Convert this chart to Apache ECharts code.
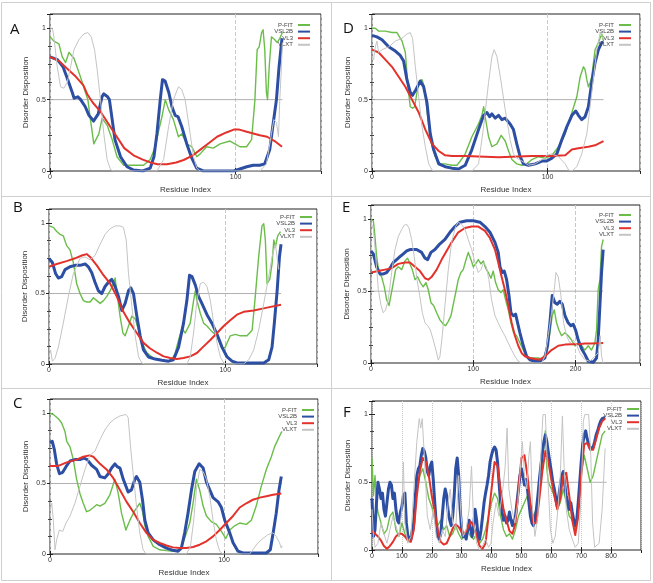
<!DOCTYPE html>
<html><head><meta charset="utf-8">
<script src="https://cdn.jsdelivr.net/npm/echarts@6/dist/echarts.min.js"></script>
<style>html,body{margin:0;padding:0;background:#fff}#c{width:653px;height:583px}</style>
</head><body><div id="c"></div>
<script>
const NAMES = ['P-FIT', 'VSL2B', 'VL3', 'VLXT'];
const THRESHOLD = 0.5;
const X_TICK_STEP = 100;
const Y_TICK_STEP = 0.5;
// sequence lengths (end of threshold line) per panel
const SEQ_END = { A: 125.2, B: 131.6, C: 133.4, D: 131.9, E: 227, F: 785 };
const X_MAX = { A: 146, B: 152, C: 154, D: 152.7, E: 263, F: 900 };

// ---------- Panel A ----------
const A_PFIT = [[0,0.94],[2.1,0.91],[4.8,0.89],[6.6,0.80],[8.4,0.76],[10.2,0.83],[11.1,0.84],[12.9,0.79],[15.6,0.69],[17.4,0.62],[19.1,0.55],[20.4,0.50],[21.8,0.36],[23.6,0.19],[24.5,0.18],[26.3,0.26],[28.1,0.37],[30.8,0.32],[33.5,0.22],[36.1,0.10],[39.7,0.04],[45.1,0.04],[50.4,0.04],[54,0.08],[56.7,0.17],[58.5,0.28],[60.3,0.38],[62.1,0.50],[63.9,0.43],[66.5,0.36],[69.2,0.24],[71,0.26],[73.7,0.19],[76.4,0.17],[79.1,0.10],[80.9,0.12],[84.4,0.17],[88,0.16],[91.6,0.19],[97,0.21],[99.6,0.19],[102.3,0.17],[105.9,0.17],[108.6,0.22],[110.4,0.50],[111.6,0.85],[112.7,0.87],[114,0.97],[114.8,0.99],[115.7,0.85],[116.6,0.55],[117.2,0.50],[118.1,0.73],[119.3,0.94],[121.1,0.92],[122.4,0.90],[123.8,0.93],[125.2,0.97]];
const A_VSL2B = [[0,0.80],[4,0.78],[7,0.73],[9,0.66],[12,0.55],[13,0.51],[15,0.52],[16.5,0.50],[19,0.45],[21,0.39],[23.5,0.35],[24.5,0.34],[26,0.40],[28,0.52],[29,0.54],[31,0.52],[32,0.50],[33.5,0.36],[35,0.22],[38,0.10],[41.5,0.03],[45,0.007],[50,0],[54,0.02],[56,0.10],[57.6,0.26],[59.4,0.50],[60.6,0.64],[62,0.63],[64,0.55],[65.7,0.45],[67.4,0.39],[69,0.38],[71,0.31],[73.7,0.19],[76.4,0.09],[79,0.02],[82.6,0],[99,0],[106,0.03],[109.5,0.04],[113,0.04],[115.7,0.05],[118.4,0.15],[120,0.31],[122,0.5],[123.4,0.73],[125,0.93]];
const A_VL3 = [[0,0.80],[5,0.77],[9,0.72],[14,0.66],[18,0.60],[20,0.54],[23,0.48],[27,0.42],[31,0.34],[36,0.24],[40,0.16],[45,0.11],[50,0.08],[54,0.06],[58,0.047],[63,0.047],[68,0.06],[72,0.077],[77,0.11],[81,0.15],[86,0.20],[90,0.24],[95,0.27],[99,0.29],[102,0.29],[106,0.275],[109,0.265],[113,0.25],[117,0.24],[121,0.21],[125,0.17]];
const A_VLXT = [[0,1.0],[1.3,1.0],[2.1,0.94],[3.9,0.73],[5.7,0.59],[7.5,0.58],[9.3,0.62],[11.1,0.73],[12.9,0.85],[15.6,0.92],[18.2,0.96],[20.4,0.97],[22.2,0.94],[24,0.85],[25.4,0.71],[27.2,0.50],[29,0.26],[30.8,0.08],[32.6,0.01],[34.3,0],[57.6,0],[61.2,0.08],[63.9,0.31],[66.5,0.50],[69.2,0.59],[71,0.57],[72.8,0.50],[75.5,0.26],[77.3,0.10],[79.1,0.02],[80.9,0],[113.1,0],[116.6,0.05],[119.3,0.26],[120.6,0.36],[122,0.34],[123.1,0.24],[123.8,0.50],[124.7,0.73],[125.2,0.90]];

// ---------- Panel D ----------
const D_PFIT = [[0,1.0],[1.9,1.0],[3.8,0.98],[7.6,0.98],[11.4,0.97],[14.2,0.97],[17.1,0.91],[19,0.83],[20.5,0.59],[21.8,0.45],[23.1,0.44],[24.3,0.45],[25.6,0.55],[26.9,0.63],[28.5,0.64],[29.8,0.59],[31.3,0.43],[33.2,0.22],[36.1,0.10],[38.9,0.05],[41.7,0.05],[45.5,0.04],[48.4,0.04],[50.3,0.07],[53.1,0.12],[56.9,0.24],[60.7,0.33],[62.6,0.39],[63.6,0.45],[64.5,0.38],[66.4,0.24],[68.3,0.17],[71.2,0.19],[73.6,0.25],[75.9,0.21],[77.8,0.14],[79.7,0.08],[82.5,0.05],[85.4,0.04],[88.2,0.05],[91.1,0.08],[94.9,0.10],[98.7,0.09],[102.5,0.11],[106.3,0.17],[110.1,0.26],[113.9,0.41],[116.7,0.52],[118.6,0.66],[120.5,0.73],[121.4,0.71],[122.4,0.64],[123.3,0.59],[124.3,0.62],[125.2,0.66],[127.1,0.85],[129,0.90],[130.9,0.96],[131.9,0.91]];
const D_VSL2B = [[0,0.95],[2.8,0.94],[5.7,0.92],[9.5,0.87],[13.3,0.84],[16.1,0.81],[18,0.77],[19.9,0.64],[21.8,0.55],[23.1,0.53],[25,0.57],[27.5,0.63],[29.4,0.59],[31.3,0.48],[33.2,0.26],[35.1,0.15],[38,0.05],[41.7,0.03],[45.5,0.02],[49.3,0.014],[53.1,0.04],[56.9,0.15],[60.7,0.29],[63.6,0.39],[65.5,0.41],[67,0.38],[68.3,0.40],[70.2,0.37],[72.1,0.39],[74,0.36],[75.9,0.37],[78.7,0.33],[80.6,0.29],[82.5,0.19],[84.4,0.10],[86.3,0.05],[89.2,0.04],[93,0.05],[96.8,0.07],[99.6,0.07],[102.5,0.09],[105.3,0.12],[108.2,0.22],[111,0.31],[113.9,0.39],[116.1,0.42],[117.6,0.39],[119.5,0.36],[121.4,0.38],[123.3,0.45],[125.2,0.62],[127.1,0.76],[129,0.85],[130.9,0.90],[131.9,0.90]];
const D_VL3 = [[0,0.85],[3.8,0.83],[7.6,0.78],[11.4,0.73],[15.2,0.66],[19,0.59],[22.8,0.50],[26.6,0.41],[30.4,0.29],[34.2,0.19],[38,0.14],[41.7,0.11],[45.5,0.105],[53.1,0.105],[64.5,0.10],[72.1,0.096],[79.7,0.10],[91.1,0.105],[102.5,0.105],[110.1,0.11],[113.9,0.15],[117.6,0.16],[123.3,0.17],[127.1,0.18],[131.9,0.21]];
const D_VLXT = [[0,0.80],[0.9,0.78],[1.9,0.87],[2.8,0.91],[3.8,0.83],[5.7,0.85],[9.5,0.87],[13.3,0.91],[17.1,0.93],[19.9,0.96],[21.8,0.97],[23.1,0.93],[24.7,0.73],[26.6,0.52],[28.5,0.31],[30.4,0.17],[32.3,0.05],[34.2,0.007],[36.1,0],[56.9,0],[60.7,0.05],[63.6,0.31],[66.4,0.62],[68.3,0.80],[69.6,0.85],[71.2,0.80],[73.1,0.66],[75.9,0.43],[78.7,0.22],[80.6,0.12],[82.5,0.09],[85.4,0.07],[89.2,0.04],[93,0.05],[96.8,0.08],[99.6,0.11],[102.5,0.12],[106.3,0.10],[110.1,0.05],[112,0.007],[113.9,0],[116.7,0.03],[119.5,0.12],[122.4,0.26],[125.2,0.55],[128.1,0.85],[130,0.97],[131.9,0.92]];

// ---------- Panel B ----------
const B_PFIT = [[0,0.98],[2.5,0.97],[4.4,0.94],[6.3,0.92],[8.1,0.91],[10,0.84],[11.9,0.81],[13.8,0.72],[15.7,0.57],[17.6,0.50],[19.5,0.45],[21.4,0.44],[23.3,0.44],[25.2,0.47],[27.1,0.45],[29,0.43],[30.9,0.45],[32.8,0.48],[34.7,0.52],[36.6,0.57],[37.5,0.61],[38.4,0.52],[40.3,0.34],[41.9,0.22],[43.2,0.20],[45.1,0.27],[47,0.34],[48.9,0.32],[50.8,0.24],[52.7,0.15],[55.5,0.08],[59.3,0.04],[63.1,0.03],[66.9,0.02],[69.7,0.03],[71.6,0.08],[73.5,0.17],[75.4,0.25],[77.3,0.22],[80.1,0.29],[82,0.45],[83,0.52],[83.9,0.45],[85.8,0.36],[87.7,0.29],[89.6,0.27],[92.4,0.23],[95.3,0.20],[98.1,0.11],[100,0.12],[102.8,0.20],[105.7,0.21],[108.5,0.20],[112.3,0.20],[115.2,0.24],[117,0.48],[118.9,0.76],[120.8,0.98],[121.8,0.995],[122.7,0.88],[123.7,0.57],[125.2,0.60],[126.5,0.71],[127.5,0.88],[128.4,0.83],[129.7,0.91],[131.3,0.94]];
const B_VSL2B = [[0,0.75],[1.9,0.72],[3.8,0.64],[5.3,0.61],[7.2,0.62],[9.1,0.67],[11.9,0.69],[14.8,0.70],[17.6,0.70],[20.5,0.71],[22.3,0.69],[24.2,0.65],[26.1,0.58],[28,0.52],[29.9,0.50],[31.8,0.55],[33.7,0.58],[35.6,0.60],[37.5,0.55],[39.4,0.48],[41.3,0.38],[43.2,0.43],[45.1,0.52],[46.4,0.54],[47.9,0.50],[49.8,0.34],[51.7,0.20],[53.6,0.10],[56.4,0.05],[60.2,0.035],[64,0.026],[67.8,0.02],[70.6,0.03],[73.5,0.12],[76.3,0.29],[78.2,0.45],[79.7,0.63],[81.1,0.62],[83,0.56],[84.8,0.48],[86.7,0.43],[89.6,0.35],[92.4,0.29],[95.3,0.21],[98.1,0.12],[101,0.05],[103.8,0.02],[106.6,0.007],[121.8,0.007],[124.6,0.03],[126.5,0.12],[127.8,0.29],[129.4,0.52],[130.7,0.76],[131.6,0.85]];
const B_VL3 = [[0,0.69],[4.4,0.71],[10,0.73],[14.8,0.75],[18.6,0.77],[21.4,0.78],[23.3,0.76],[27.1,0.70],[30.9,0.63],[34.7,0.57],[38.4,0.48],[42.2,0.37],[46,0.29],[49.8,0.22],[53.6,0.15],[57.4,0.11],[61.2,0.08],[65,0.054],[68.8,0.042],[72.5,0.035],[76.3,0.042],[80.1,0.054],[83.9,0.078],[87.7,0.125],[91.5,0.17],[95.3,0.22],[99.1,0.27],[102.8,0.31],[106.6,0.35],[110.4,0.37],[116.1,0.38],[123.7,0.40],[131.6,0.42]];
const B_VLXT = [[0,0.05],[0.9,0.10],[1.9,0.02],[3.4,0.04],[5.3,0.12],[8.1,0.29],[11,0.48],[13.8,0.64],[17.6,0.75],[20.5,0.76],[23.3,0.74],[26.1,0.77],[29,0.85],[31.8,0.92],[34.7,0.96],[37.5,0.98],[40.3,0.98],[42.2,0.97],[43.8,0.88],[45.1,0.64],[47,0.41],[48.9,0.20],[50.8,0.05],[52.7,0.007],[54.5,0],[78.2,0],[80.1,0.05],[82,0.22],[83.9,0.45],[85.8,0.57],[87.7,0.58],[89.6,0.55],[91.5,0.45],[93.4,0.29],[95.3,0.15],[97.2,0.05],[99.1,0.007],[100.9,0],[110.4,0],[113.3,0.03],[116.1,0.10],[118.9,0.24],[121.8,0.43],[124.6,0.62],[126.5,0.76],[128.4,0.85],[130.3,0.67]];

// ---------- Panel E ----------
const E_PFIT = [[0,1.0],[2.3,0.99],[3.9,0.88],[5.5,0.74],[7.8,0.63],[10.4,0.60],[13,0.53],[15.3,0.44],[17.6,0.40],[19.5,0.47],[21.8,0.56],[24.1,0.65],[26.7,0.67],[30,0.65],[33.2,0.71],[35.8,0.73],[38.1,0.69],[40.4,0.65],[43,0.58],[45.6,0.60],[48.2,0.56],[51.1,0.53],[53.7,0.56],[56,0.51],[58.6,0.42],[61.2,0.40],[64.2,0.35],[67.4,0.30],[70.7,0.27],[73,0.26],[75.6,0.29],[78.2,0.33],[80.8,0.42],[83.4,0.51],[85.3,0.58],[87.9,0.63],[90.2,0.65],[92.5,0.71],[95.1,0.77],[97.7,0.72],[100,0.67],[102.3,0.69],[104.9,0.72],[107.5,0.69],[109.8,0.71],[112.1,0.66],[114.7,0.63],[117.3,0.59],[119.5,0.64],[121.8,0.56],[124.4,0.51],[127,0.49],[129.3,0.51],[131.6,0.44],[134.2,0.37],[136.8,0.28],[139.4,0.21],[142.3,0.19],[145.6,0.14],[148.9,0.09],[152.1,0.047],[155.4,0.035],[158.6,0.035],[163.5,0.035],[167.4,0.028],[170,0.06],[172.6,0.12],[174.9,0.21],[177.2,0.33],[179.2,0.37],[181.4,0.28],[183.7,0.23],[186.3,0.19],[189.6,0.21],[192.8,0.19],[196.1,0.16],[199.3,0.12],[202.6,0.14],[205.9,0.12],[209.1,0.09],[212.4,0.12],[215.6,0.09],[218.9,0.14],[220.5,0.23],[222.1,0.51],[223.8,0.58],[225.4,0.81],[227,0.86]];
const E_VSL2B = [[0,0.78],[2.3,0.76],[5.5,0.67],[8.8,0.62],[12,0.62],[15.3,0.63],[18.6,0.66],[21.8,0.70],[25.1,0.72],[28.3,0.74],[31.6,0.76],[34.9,0.78],[38.1,0.79],[41.4,0.79],[44.6,0.79],[49.5,0.77],[52.8,0.73],[55.4,0.72],[58.6,0.77],[62.5,0.79],[67.4,0.83],[72.3,0.86],[77.2,0.91],[82.1,0.95],[87,0.98],[93.5,0.99],[100,0.99],[106.5,0.98],[111.4,0.95],[116.3,0.91],[121.2,0.84],[124.4,0.77],[126.1,0.67],[128.3,0.63],[130.3,0.64],[132.6,0.58],[134.9,0.47],[136.8,0.35],[139.1,0.33],[141.4,0.34],[143.3,0.28],[145.6,0.21],[148.9,0.12],[152.1,0.047],[155.4,0.023],[160.3,0.012],[165.1,0.012],[170,0.035],[172.6,0.12],[174.9,0.28],[177.2,0.47],[179.8,0.42],[182.1,0.41],[184.7,0.43],[187,0.41],[189.6,0.33],[192.8,0.28],[195.4,0.26],[197.7,0.27],[200,0.23],[202.6,0.16],[205.9,0.10],[209.1,0.06],[212.4,0.012],[217.3,0.005],[220.5,0.035],[222.1,0.16],[223.8,0.40],[225.4,0.63],[227,0.79]];
const E_VL3 = [[0,0.63],[7.2,0.64],[13.7,0.65],[20.2,0.66],[26.7,0.69],[33.2,0.70],[38.1,0.70],[43,0.67],[47.9,0.64],[52.8,0.59],[56,0.58],[59.3,0.60],[64.2,0.65],[69.1,0.72],[73.9,0.78],[78.8,0.84],[85.3,0.91],[91.9,0.94],[98.4,0.95],[104.9,0.95],[111.4,0.92],[116.3,0.87],[121.2,0.79],[124.4,0.70],[127.7,0.60],[130.9,0.51],[134.2,0.40],[137.5,0.28],[140.7,0.19],[144,0.12],[147.2,0.07],[150.5,0.047],[155.4,0.035],[160.3,0.028],[165.1,0.023],[170,0.047],[176.5,0.09],[183.1,0.12],[189.6,0.128],[196.1,0.13],[202.6,0.13],[209.1,0.135],[215.6,0.135],[227,0.14]];
const E_VLXT = [[0,0.98],[2.3,0.93],[4.6,0.74],[7.2,0.51],[9.8,0.40],[12,0.35],[14.3,0.37],[16.9,0.44],[20.2,0.63],[23.5,0.79],[26.7,0.88],[30,0.93],[32.6,0.96],[34.9,0.965],[37.1,0.94],[39.7,0.86],[42.3,0.74],[45,0.58],[47.6,0.47],[50.2,0.35],[52.8,0.28],[55.4,0.26],[58,0.23],[60.9,0.16],[64.2,0.07],[65.8,0.02],[67.4,0.047],[69.7,0.19],[72.3,0.40],[75.6,0.65],[78.8,0.84],[82.7,0.95],[85.3,0.98],[88.6,0.965],[91.9,0.93],[95.1,0.86],[98.4,0.79],[101.6,0.70],[104.9,0.63],[107.5,0.65],[110.1,0.70],[112.7,0.67],[115.3,0.58],[117.9,0.44],[121.2,0.33],[124.4,0.28],[127.7,0.23],[130.9,0.19],[134.2,0.14],[137.5,0.09],[140.7,0.047],[144,0.012],[147.2,0],[166.8,0],[170,0.047],[173.3,0.19],[176.5,0.35],[179.2,0.51],[180.8,0.63],[183.1,0.60],[185.7,0.47],[188.3,0.28],[191.2,0.19],[194.5,0.14],[197.7,0.16],[201,0.128],[204.2,0.07],[209.1,0.023],[214,0.012],[218.9,0.047],[222.1,0.07],[224.1,0.19],[225.4,0.047],[227,0]];

// ---------- Panel C ----------
const C_PFIT = [[0,1.0],[1.9,0.99],[4.8,0.96],[6.7,0.93],[8.6,0.87],[9.6,0.80],[11.5,0.76],[13.4,0.67],[15.3,0.53],[17.2,0.43],[19.1,0.36],[21,0.30],[22.9,0.31],[24.9,0.33],[26.8,0.35],[28.7,0.34],[31.5,0.36],[34.4,0.42],[37.3,0.53],[39.2,0.43],[41.1,0.29],[43.6,0.17],[45.9,0.24],[48.8,0.31],[51.6,0.36],[53.2,0.30],[54.5,0.20],[56.4,0.125],[59.3,0.054],[63.1,0.03],[66.9,0.024],[70.7,0.02],[74.6,0.03],[76.5,0.08],[78.4,0.15],[80.3,0.22],[82.2,0.36],[84.1,0.53],[86,0.455],[88,0.34],[89.9,0.27],[92.7,0.23],[95.6,0.21],[98.5,0.16],[101,0.11],[103.3,0.17],[106.1,0.20],[109,0.22],[112.8,0.21],[115.7,0.24],[118.5,0.34],[121.4,0.48],[124.3,0.60],[127.2,0.69],[129,0.76],[130.9,0.81],[132.8,0.86],[133.4,0.87]];
const C_VSL2B = [[0,0.79],[1.3,0.80],[2.5,0.74],[3.8,0.64],[5.4,0.57],[7.3,0.58],[9.2,0.62],[11.5,0.66],[14.3,0.67],[17.2,0.67],[19.5,0.68],[21.4,0.67],[23.9,0.63],[26.8,0.60],[28.7,0.55],[31.5,0.54],[33.5,0.57],[35.4,0.61],[37.3,0.64],[38.6,0.62],[40.2,0.61],[42.1,0.53],[44.9,0.44],[46.8,0.455],[48.8,0.53],[49.7,0.55],[51.6,0.51],[53.2,0.38],[54.5,0.24],[56.4,0.15],[59.3,0.10],[63.1,0.066],[66.9,0.042],[70.7,0.026],[73.6,0.02],[75.5,0.042],[77.4,0.15],[79.3,0.29],[81.3,0.455],[83.2,0.585],[85.7,0.64],[88,0.61],[89.9,0.51],[91.8,0.455],[93.7,0.40],[96.6,0.37],[98.5,0.33],[100.4,0.24],[103.3,0.15],[105.2,0.08],[108,0.02],[110.9,0.007],[124.3,0.007],[126.6,0.03],[128.5,0.17],[130,0.29],[131.6,0.455],[132.9,0.55]];
const C_VL3 = [[0,0.625],[4.8,0.625],[9.6,0.65],[15.3,0.67],[19.1,0.69],[22.6,0.70],[24.9,0.69],[28.7,0.64],[32.5,0.60],[36.3,0.54],[40.2,0.455],[44,0.37],[47.8,0.30],[51.6,0.22],[55.4,0.15],[59.3,0.10],[63.1,0.078],[66.9,0.06],[70.7,0.047],[74.6,0.042],[78.4,0.042],[82.2,0.05],[86,0.066],[89.9,0.09],[93.7,0.125],[97.5,0.17],[101.3,0.22],[105.2,0.27],[109,0.33],[112.8,0.36],[116.6,0.385],[120.5,0.40],[124.3,0.41],[128.1,0.42],[132.9,0.43]];
const C_VLXT = [[0,0.31],[1,0.36],[1.9,0.24],[2.9,0.03],[3.8,0.10],[5.4,0.17],[7.3,0.16],[9.2,0.22],[11.5,0.27],[14.3,0.36],[17.2,0.48],[20.1,0.60],[22.9,0.70],[25.8,0.73],[28.7,0.81],[31.5,0.88],[34.4,0.93],[37.3,0.96],[40.2,0.98],[43.6,0.99],[44.9,0.97],[46.3,0.76],[47.8,0.57],[49.7,0.34],[51.6,0.15],[53.5,0.03],[55.4,0],[78.4,0],[80.7,0.054],[82.6,0.24],[84.1,0.455],[86,0.60],[88,0.585],[89.9,0.53],[91.8,0.41],[93.7,0.24],[95.6,0.10],[97.5,0.02],[99.4,0],[114.7,0],[116.6,0.03],[119.5,0.08],[122.4,0.11],[125.2,0.137],[128.1,0.15],[130,0.125],[131,0.137],[131.9,0.08],[132.9,0.042],[133.4,0.06]];

// ---------- Panel F ----------
const F_PFIT = [[0,0.68],[5,0.40],[10,0.55],[15,0.35],[20,0.28],[30,0.20],[40,0.12],[50,0.15],[60,0.25],[70,0.28],[80,0.15],[90,0.10],[100,0.20],[110,0.12],[120,0.06],[130,0.12],[140,0.25],[150,0.45],[160,0.55],[170,0.60],[180,0.50],[190,0.38],[200,0.32],[210,0.22],[220,0.18],[230,0.22],[240,0.15],[250,0.18],[260,0.10],[270,0.12],[280,0.18],[290,0.12],[300,0.08],[310,0.10],[320,0.14],[330,0.10],[340,0.08],[350,0.12],[360,0.05],[370,0.08],[380,0.15],[390,0.25],[400,0.35],[410,0.42],[420,0.38],[430,0.25],[440,0.15],[450,0.10],[460,0.12],[470,0.08],[480,0.15],[490,0.25],[500,0.30],[510,0.35],[520,0.40],[530,0.30],[540,0.25],[550,0.30],[560,0.45],[570,0.65],[580,0.88],[585,0.60],[590,0.50],[600,0.45],[610,0.40],[620,0.30],[630,0.35],[640,0.45],[650,0.35],[660,0.25],[670,0.22],[680,0.15],[690,0.30],[700,0.55],[710,0.70],[720,0.60],[730,0.50],[740,0.55],[750,0.65],[760,0.75],[770,0.85],[780,0.88]];
const F_VSL2B = [[0,0.38],[5,0.10],[10,0.15],[15,0.35],[20,0.50],[25,0.45],[30,0.38],[35,0.42],[40,0.30],[45,0.25],[50,0.35],[55,0.45],[60,0.50],[65,0.48],[70,0.38],[75,0.42],[80,0.30],[85,0.22],[90,0.20],[95,0.28],[100,0.32],[105,0.40],[110,0.42],[115,0.20],[120,0.10],[130,0.08],[140,0.20],[145,0.40],[150,0.55],[155,0.60],[160,0.62],[165,0.70],[170,0.75],[175,0.73],[180,0.68],[185,0.58],[190,0.55],[195,0.62],[200,0.65],[205,0.52],[210,0.35],[215,0.20],[220,0.10],[225,0.08],[230,0.12],[235,0.25],[240,0.38],[245,0.45],[250,0.40],[255,0.28],[260,0.22],[265,0.18],[270,0.25],[275,0.40],[280,0.60],[285,0.68],[290,0.55],[295,0.30],[300,0.15],[305,0.10],[310,0.12],[315,0.08],[320,0.15],[325,0.22],[330,0.15],[335,0.10],[340,0.18],[345,0.30],[350,0.22],[355,0.10],[360,0.08],[365,0.15],[370,0.25],[375,0.35],[380,0.42],[385,0.48],[390,0.55],[395,0.65],[400,0.70],[405,0.74],[410,0.76],[415,0.74],[420,0.65],[425,0.50],[430,0.35],[435,0.28],[440,0.22],[445,0.25],[450,0.20],[455,0.22],[460,0.28],[465,0.22],[470,0.18],[475,0.22],[480,0.25],[485,0.35],[490,0.45],[495,0.55],[500,0.60],[505,0.55],[510,0.48],[515,0.52],[520,0.45],[525,0.35],[530,0.25],[535,0.20],[540,0.18],[545,0.22],[550,0.30],[555,0.40],[560,0.52],[565,0.62],[570,0.72],[575,0.80],[580,0.85],[585,0.80],[590,0.72],[595,0.65],[600,0.58],[605,0.50],[610,0.45],[615,0.38],[620,0.32],[625,0.40],[630,0.48],[635,0.55],[640,0.58],[645,0.48],[650,0.40],[655,0.35],[660,0.30],[665,0.35],[670,0.28],[675,0.22],[680,0.18],[685,0.22],[690,0.35],[695,0.50],[700,0.65],[705,0.78],[710,0.85],[715,0.88],[720,0.82],[725,0.78],[730,0.75],[735,0.74],[740,0.76],[745,0.80],[750,0.85],[755,0.88],[760,0.92],[765,0.95],[770,0.97],[775,0.98],[780,0.98]];
const F_VL3 = [[0,0.14],[10,0.12],[20,0.10],[30,0.07],[40,0.03],[50,0.01],[60,0.03],[70,0.06],[80,0.10],[90,0.12],[100,0.12],[110,0.10],[120,0.07],[130,0.06],[140,0.15],[150,0.40],[160,0.58],[170,0.68],[180,0.65],[190,0.55],[200,0.40],[210,0.28],[220,0.15],[230,0.06],[240,0.04],[250,0.05],[260,0.10],[270,0.16],[280,0.19],[290,0.17],[300,0.13],[310,0.12],[320,0.16],[330,0.21],[340,0.18],[350,0.10],[360,0.03],[370,0.01],[380,0.05],[390,0.25],[400,0.45],[410,0.65],[420,0.62],[430,0.45],[440,0.30],[450,0.22],[460,0.14],[470,0.12],[480,0.20],[490,0.45],[500,0.68],[510,0.70],[520,0.55],[530,0.35],[540,0.20],[550,0.20],[560,0.38],[570,0.58],[580,0.73],[590,0.65],[600,0.52],[610,0.40],[620,0.30],[630,0.38],[640,0.55],[650,0.57],[660,0.40],[670,0.22],[680,0.11],[690,0.25],[700,0.55],[710,0.78],[720,0.79],[730,0.74],[740,0.74],[750,0.82],[760,0.90],[770,0.95],[780,0.97]];
const F_VLXT = [[0,0.30],[5,0.10],[10,0.02],[20,0.05],[30,0.20],[40,0.12],[50,0.05],[60,0.15],[70,0.25],[80,0.18],[90,0.10],[100,0.30],[105,0.65],[110,0.20],[120,0.05],[130,0.10],[140,0.45],[150,0.80],[158,0.97],[163,0.90],[168,0.97],[175,0.70],[185,0.25],[195,0.15],[205,0.30],[215,0.10],[225,0.05],[235,0.15],[245,0.10],[255,0.35],[262,0.45],[270,0.20],[280,0.15],[290,0.55],[298,0.25],[305,0.10],[315,0.15],[325,0.30],[333,0.62],[340,0.20],[350,0.05],[360,0.00],[370,0.03],[380,0.08],[390,0.02],[398,0.05],[405,0.20],[415,0.35],[425,0.25],[435,0.40],[445,0.60],[452,0.90],[458,0.45],[468,0.30],[478,0.20],[488,0.35],[498,0.65],[503,0.80],[510,0.55],[518,0.45],[525,0.70],[530,0.80],[537,0.30],[545,0.10],[555,0.25],[565,0.70],[572,1.00],[580,1.00],[588,0.55],[597,0.15],[605,0.05],[613,0.10],[620,0.25],[630,0.55],[637,0.99],[643,0.60],[650,0.30],[660,0.15],[670,0.08],[680,0.02],[690,0.05],[700,0.40],[707,0.95],[712,1.00],[725,1.00],[732,0.70],[738,0.20],[745,0.02],[760,0.05],[770,0.30],[780,0.75]];

// ---------- layout ----------
const STYLE = [
  { color: '#6bbd4a', width: 1.4 },
  { color: '#2d4fa3', width: 3 },
  { color: '#e3322b', width: 2 },
  { color: '#c4c4c4', width: 1 }
];
const panels = [
  { key: 'A', lines: [A_PFIT, A_VSL2B, A_VL3, A_VLXT], grid: { left: 50, top: 14, width: 271, height: 157 }, lab: [10, 30], leg: { right: 342, top: 22 }, split: 'dashed' },
  { key: 'D', lines: [D_PFIT, D_VSL2B, D_VL3, D_VLXT], grid: { left: 372, top: 14, width: 268, height: 157 }, lab: [343, 29], leg: { right: 21, top: 22 }, split: 'dashed' },
  { key: 'B', lines: [B_PFIT, B_VSL2B, B_VL3, B_VLXT], grid: { left: 49, top: 209, width: 268, height: 155 }, lab: [13, 208], leg: { right: 340, top: 214 }, split: 'dashed' },
  { key: 'E', lines: [E_PFIT, E_VSL2B, E_VL3, E_VLXT], grid: { left: 371, top: 205, width: 269, height: 158 }, lab: [342, 208], leg: { right: 21, top: 212 }, split: 'dashed' },
  { key: 'C', lines: [C_PFIT, C_VSL2B, C_VL3, C_VLXT], grid: { left: 50, top: 399, width: 268, height: 155 }, lab: [13, 404], leg: { right: 338, top: 407 }, split: 'dashed' },
  { key: 'F', lines: [F_PFIT, F_VSL2B, F_VL3, F_VLXT], grid: { left: 372, top: 401, width: 269, height: 149 }, lab: [343, 413], leg: { right: 13, top: 406 }, split: 'dotted' }
];

const FONT = 'Liberation Sans';
const grids = [], xAxes = [], yAxes = [], series = [], legends = [], graphics = [];
const tickStyle = { show: true, inside: true, length: 3, lineStyle: { color: '#222' } };

panels.forEach((p, i) => {
  grids.push(Object.assign({ show: true, borderColor: '#222', borderWidth: 1, backgroundColor: 'transparent', outerBoundsMode: 'none', containLabel: false }, p.grid));
  const xBase = { type: 'value', gridIndex: i, min: 0, max: X_MAX[p.key], interval: X_TICK_STEP, axisLine: { show: false }, axisTick: tickStyle };
  const yBase = { type: 'value', gridIndex: i, min: 0, max: 1.1, interval: Y_TICK_STEP, axisLine: { show: false }, axisTick: tickStyle,
    minorTick: { show: true, splitNumber: 4, length: 2, lineStyle: { color: '#444' } } };
  xAxes.push(Object.assign({}, xBase, {
    position: 'bottom',
    name: 'Residue Index', nameLocation: 'middle', nameGap: 15,
    nameTextStyle: { fontSize: 8, color: '#333', fontFamily: FONT },
    axisLabel: { fontSize: 7, color: '#333', margin: 3, fontFamily: FONT, showMaxLabel: false, showMinLabel: true },
    splitLine: { show: true, lineStyle: { type: p.split, color: '#c8c8c8', width: 1 } }
  }));
  const xTopIdx = xAxes.length;
  xAxes.push(Object.assign({}, xBase, { position: 'top', axisLabel: { show: false }, splitLine: { show: false } }));
  yAxes.push(Object.assign({}, yBase, {
    position: 'left',
    name: 'Disorder Disposition', nameLocation: 'middle', nameGap: 20,
    nameTextStyle: { fontSize: 8, color: '#333', fontFamily: FONT },
    axisLabel: { fontSize: 7, color: '#333', margin: 4, fontFamily: FONT, showMaxLabel: false, formatter: v => (v === 0 ? '0' : v === 0.5 ? '0.5' : v === 1 ? '1' : '') },
    splitLine: { show: false }
  }));
  yAxes.push(Object.assign({}, yBase, { position: 'right', axisLabel: { show: false }, splitLine: { show: false } }));
  const xi = xAxes.length - 2, yi = yAxes.length - 2;
  series.push({
    type: 'line', name: 'threshold', xAxisIndex: xi, yAxisIndex: yi, symbol: 'none', silent: true, z: 1,
    lineStyle: { color: '#b0b0b0', width: 1 },
    data: [[0, THRESHOLD], [SEQ_END[p.key], THRESHOLD]]
  });
  p.lines.forEach((d, k) => {
    series.push({
      type: 'line', name: NAMES[k], xAxisIndex: xi, yAxisIndex: yi, symbol: 'none', showSymbol: false, silent: true,
      z: 2 + k, color: STYLE[k].color,
      lineStyle: { color: STYLE[k].color, width: STYLE[k].width, join: 'round' },
      data: d
    });
  });
  legends.push({
    orient: 'vertical', right: p.leg.right, top: p.leg.top, align: 'right', padding: 0,
    itemWidth: 12, itemHeight: 5, itemGap: 0.6, selectedMode: false, data: NAMES,
    itemStyle: { opacity: 0, borderWidth: 0 },
    textStyle: { fontSize: 6, lineHeight: 6, color: '#444', fontFamily: FONT }
  });
  graphics.push({ type: 'text', x: p.lab[0], y: p.lab[1], style: { text: p.key, font: '15px "Open Sans"', fill: '#111', verticalAlign: 'middle', align: 'left' } });
});

// frame lines between panels
const BORDER = '#cfcfcf';
graphics.push({ type: 'rect', shape: { x: 1.5, y: 2.5, width: 649, height: 578 }, style: { fill: 'none', stroke: BORDER, lineWidth: 1 } });
graphics.push({ type: 'line', shape: { x1: 331.5, y1: 2, x2: 331.5, y2: 581 }, style: { stroke: BORDER, lineWidth: 1 } });
graphics.push({ type: 'line', shape: { x1: 1, y1: 196.5, x2: 651, y2: 196.5 }, style: { stroke: BORDER, lineWidth: 1 } });
graphics.push({ type: 'line', shape: { x1: 1, y1: 388.5, x2: 651, y2: 388.5 }, style: { stroke: BORDER, lineWidth: 1 } });

const chart = echarts.init(document.getElementById('c'), null, { renderer: 'canvas' });
chart.setOption({
  animation: false,
  backgroundColor: '#fff',
  grid: grids, xAxis: xAxes, yAxis: yAxes, series: series, legend: legends, graphic: graphics
});
</script>
</body></html>
